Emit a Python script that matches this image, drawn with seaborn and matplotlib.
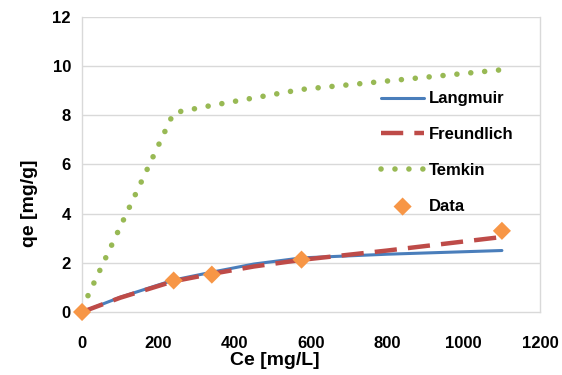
import pandas as pd
import matplotlib
matplotlib.use('Agg')
import matplotlib.pyplot as plt
import seaborn as sns

# experimental data
ce_data = [0, 240, 340, 575, 1100]
qe_data = [0, 1.28, 1.52, 2.13, 3.3]

# model curves
ce_model = [0, 100, 240, 340, 450, 575, 800, 1100]
qe_langmuir = [0, 0.6, 1.3, 1.62, 1.95, 2.2, 2.35, 2.5]
qe_freundlich = [0, 0.58, 1.25, 1.55, 1.85, 2.12, 2.5, 3.05]

ce_temkin = [0, 240, 340, 575, 1100]
qe_temkin = [0.15, 8.1, 8.4, 9.05, 9.85]

sns.set_style('white')
plt.rcParams['font.family'] = ['Liberation Sans', 'DejaVu Sans']
plt.rcParams['text.color'] = 'black'
plt.rcParams['axes.labelcolor'] = 'black'
plt.rcParams['xtick.color'] = 'black'
plt.rcParams['ytick.color'] = 'black'

fig = plt.figure(figsize=(5.62, 3.75), dpi=100)
ax = fig.add_axes([0.146, 0.168, 0.815, 0.787])

grid_c = '#D9D9D9'
for y in range(2, 13, 2):
    ax.axhline(y, color=grid_c, lw=1, zorder=0)

lang = pd.DataFrame({'Ce': ce_model, 'qe': qe_langmuir})
freu = pd.DataFrame({'Ce': ce_model, 'qe': qe_freundlich})
temk = pd.DataFrame({'Ce': ce_temkin, 'qe': qe_temkin})
data = pd.DataFrame({'Ce': ce_data, 'qe': qe_data})

sns.lineplot(data=lang, x='Ce', y='qe', ax=ax, color='#4A7EBB', lw=2.2,
             label='Langmuir', zorder=3)
sns.lineplot(data=freu, x='Ce', y='qe', ax=ax, color='#BE4B48', lw=3.2,
             linestyle=(0, (5, 2.5)), label='Freundlich', zorder=4)
sns.lineplot(data=temk, x='Ce', y='qe', ax=ax, color='#98B954', lw=4,
             linestyle=(0, (0.01, 2.5)), dash_capstyle='round',
             label='Temkin', zorder=3)
sns.scatterplot(data=data, x='Ce', y='qe', ax=ax, color='#F79646', marker='D',
                s=85, edgecolor='none', label='Data', zorder=5, clip_on=False)

ax.set_xlim(0, 1200)
ax.set_ylim(0, 12)
ax.set_xticks(range(0, 1201, 200))
ax.set_yticks(range(0, 13, 2))
ax.tick_params(axis='x', length=0, pad=17, labelsize=12)
ax.tick_params(axis='y', length=0, pad=8, labelsize=12)
for lbl in ax.get_xticklabels() + ax.get_yticklabels():
    lbl.set_fontweight('bold')

for side in ['left', 'right', 'bottom']:
    ax.spines[side].set_color(grid_c)
    ax.spines[side].set_linewidth(1)
ax.spines['top'].set_visible(False)

ax.set_xlabel('Ce [mg/L]', fontsize=14, fontweight='bold')
ax.set_ylabel('qe [mg/g]', fontsize=14, fontweight='bold')
ax.xaxis.set_label_coords(0.42, -0.135)
ax.yaxis.set_label_coords(-0.096, 0.37)

leg = ax.legend(loc='upper left', bbox_to_anchor=(0.638, 0.77), frameon=False,
                fontsize=12, labelspacing=1.25, handlelength=2.6,
                handletextpad=0.3, borderaxespad=0)
for t in leg.get_texts():
    t.set_fontweight('bold')
    t.set_color('black')

fig.savefig('out.png', dpi=100)
